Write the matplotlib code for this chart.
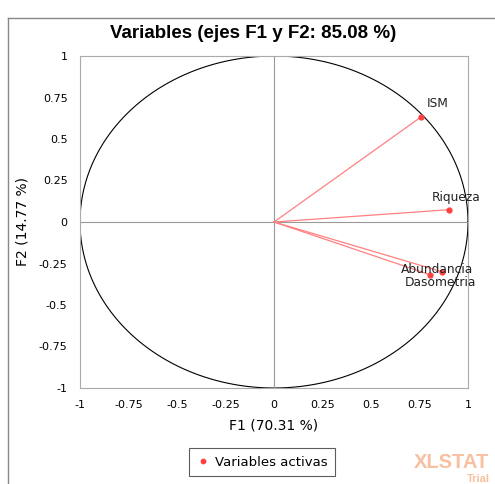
import matplotlib.pyplot as plt
import numpy as np
from matplotlib.lines import Line2D

variables = ["ISM", "Riqueza", "Abundancia", "Dasometria"]
f1 = [0.757, 0.902, 0.805, 0.868]
f2 = [0.632, 0.074, -0.318, -0.300]
label_offsets = [(12, 9.5), (5, 8.5), (5, 4), (-1.5, -8)]
ticks = [-1, -0.75, -0.5, -0.25, 0, 0.25, 0.5, 0.75, 1]
tick_labels = ["-1", "-0.75", "-0.5", "-0.25", "0", "0.25", "0.5", "0.75", "1"]

fig = plt.figure(figsize=(4.95, 4.84), dpi=100)
ax = fig.add_axes([80 / 495, 1 - 388 / 484, 388 / 495, 332 / 484])

# outer frame of the excel chart
fig.add_artist(Line2D([8 / 495, 8 / 495], [-0.1, 1 - 18 / 484], color="#888888", lw=1))
fig.add_artist(Line2D([8 / 495, 1.1], [1 - 18 / 484, 1 - 18 / 484], color="#888888", lw=1))

t = np.linspace(0, 2 * np.pi, 400)
ax.plot(np.cos(t), np.sin(t), color="black", lw=0.8)
ax.axhline(0, color="#999999", lw=0.8)
ax.axvline(0, color="#999999", lw=0.8)

for x, y in zip(f1, f2):
    ax.plot([0, x], [0, y], color="#ff8080", lw=0.9)
ax.plot(f1, f2, "o", color="#ff4040", ms=3.5, label="Variables activas")

for name, x, y, off in zip(variables, f1, f2, label_offsets):
    ax.annotate(name, (x, y), xytext=off, textcoords="offset points",
                ha="center", va="center", fontsize=8.8, color="#222222")

ax.set_xlim(-1, 1)
ax.set_ylim(-1, 1)
ax.set_xticks(ticks)
ax.set_xticklabels(tick_labels)
ax.set_yticks(ticks)
ax.set_yticklabels(tick_labels)
ax.tick_params(length=0, labelsize=8, pad=9)
for s in ax.spines.values():
    s.set_color("#aaaaaa")

ax.set_xlabel("F1 (70.31 %)", fontsize=10, labelpad=6)
ax.set_ylabel("F2 (14.77 %)", fontsize=10, labelpad=7)
fig.text(253 / 495, 1 - 34 / 484, "Variables (ejes F1 y F2: 85.08 %)", fontsize=13.5,
         fontweight="bold", family="Liberation Sans", ha="center", va="center")

leg = fig.legend(loc="center", bbox_to_anchor=(262 / 495, 1 - 462 / 484), fontsize=9.5,
                 frameon=True, fancybox=False, edgecolor="#333333", handlelength=1,
                 handletextpad=0.4, borderpad=0.6, markerscale=0.9)
leg.get_frame().set_linewidth(0.8)

fig.text(451 / 495, 1 - 462 / 484, "XLSTAT", color="#f8c0a0", fontsize=14.5,
         fontweight="bold", ha="center", va="center", family="Liberation Sans")
fig.text(478 / 495, 1 - 479 / 484, "Trial", color="#f8c0a0", fontsize=8,
         fontweight="bold", ha="center", va="center", family="Liberation Sans")

fig.savefig("out.png", dpi=100)
